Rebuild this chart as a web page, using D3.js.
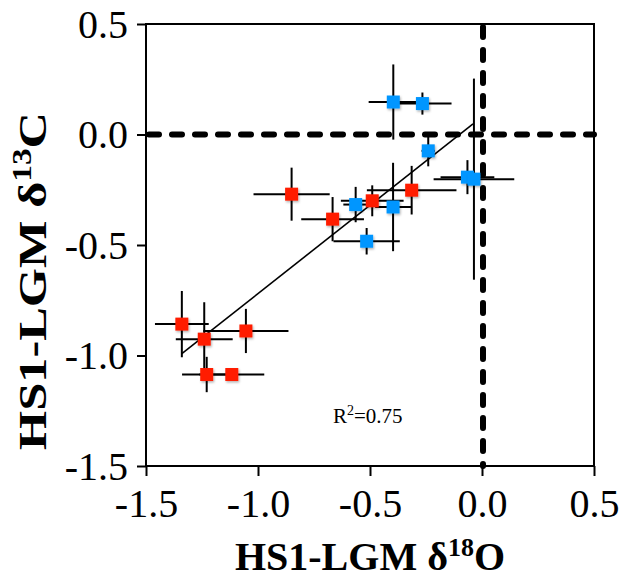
<!DOCTYPE html>
<html>
<head>
<meta charset="utf-8">
<script src="https://cdn.jsdelivr.net/npm/d3@7"></script>
<style>
  html, body { margin: 0; padding: 0; background: #fff; }
  svg { display: block; }
</style>
</head>
<body>
<svg id="chart" width="619" height="576"></svg>
<script>
// Red group: HS1-LGM differences (d18O, d13C) with 1-sigma uncertainties
const redX    = [-1.340, -1.240, -1.054, -1.229, -1.117, -0.850, -0.667, -0.490, -0.314];
const redY    = [-0.858, -0.926, -0.889, -1.086, -1.086, -0.270, -0.383, -0.300, -0.252];
const redXErr = [ 0.120,  0.127,  0.190,  0.110,  0.145,  0.170,  0.140,  0.140,  0.200];
const redYErr = [ 0.150,  0.167,  0.100,  0.080,  0.020,  0.120,  0.100,  0.070,  0.110];

// Blue group
const blueX    = [-0.515, -0.564, -0.397, -0.396, -0.266, -0.240, -0.065, -0.036];
const blueY    = [-0.483, -0.317, -0.328,  0.147,  0.140, -0.074, -0.193, -0.202];
const blueXErr = [ 0.148,  0.055,  0.080,  0.110,  0.130,  0.030,  0.120,  0.180];
const blueYErr = [ 0.060,  0.080,  0.200,  0.170,  0.050,  0.070,  0.077,  0.455];

// Least-squares fit through all points (endpoints of the drawn segment)
const fitX = [-1.340, -0.040];
const fitY = [-0.992,  0.048];
const fitLabel = "0.75";

// Axis ticks
const xTicks = [-1.5, -1.0, -0.5, 0.0, 0.5];
const xTickLabels = ["-1.5", "-1.0", "-0.5", "0.0", "0.5"];
const yTicks = [0.5, 0.0, -0.5, -1.0, -1.5];
const yTickLabels = ["0.5", "0.0", "-0.5", "-1.0", "-1.5"];

const serif = "'Liberation Serif', 'Times New Roman', Times, serif";
const RED = "#ff1e00", BLUE = "#0096ff";

const svg = d3.select("#chart");
const x = d3.scaleLinear().domain([-1.5, 0.5]).range([146, 594]);
const y = d3.scaleLinear().domain([-1.5, 0.5]).range([466, 24]);

// soft shadow under the square markers
const defs = svg.append("defs");
const f = defs.append("filter").attr("id", "shadow")
  .attr("x", "-50%").attr("y", "-50%").attr("width", "200%").attr("height", "200%");
f.append("feDropShadow").attr("dx", 1).attr("dy", 1.5).attr("stdDeviation", 1)
  .attr("flood-color", "#000").attr("flood-opacity", 0.3);

// zero reference lines
const zeroG = svg.append("g")
  .attr("stroke", "#000").attr("stroke-width", 6)
  .attr("stroke-linecap", "round").attr("stroke-dasharray", "10 13");
zeroG.append("line")
  .attr("x1", x(-1.5) + 3).attr("x2", x(0.5))
  .attr("y1", y(0)).attr("y2", y(0));
zeroG.append("line")
  .attr("x1", x(0) + 1).attr("x2", x(0) + 1)
  .attr("y1", y(0.5) + 3).attr("y2", y(-1.5));

// assemble points
const pts = [];
redX.forEach((v, i) => pts.push({x: v, y: redY[i], ex: redXErr[i], ey: redYErr[i], c: RED}));
blueX.forEach((v, i) => pts.push({x: v, y: blueY[i], ex: blueXErr[i], ey: blueYErr[i], c: BLUE}));

// error bars
const eb = svg.append("g").attr("stroke", "#000").attr("stroke-width", 2);
eb.selectAll("line.h").data(pts).join("line").attr("class", "h")
  .attr("x1", d => x(d.x - d.ex)).attr("x2", d => x(d.x + d.ex))
  .attr("y1", d => y(d.y)).attr("y2", d => y(d.y));
eb.selectAll("line.v").data(pts).join("line").attr("class", "v")
  .attr("x1", d => x(d.x)).attr("x2", d => x(d.x))
  .attr("y1", d => y(d.y - d.ey)).attr("y2", d => y(d.y + d.ey));

// regression line
svg.append("line")
  .attr("x1", x(fitX[0])).attr("y1", y(fitY[0]))
  .attr("x2", x(fitX[1])).attr("y2", y(fitY[1]))
  .attr("stroke", "#000").attr("stroke-width", 1.6);

// square markers
const S = 13;
svg.append("g").selectAll("rect").data(pts).join("rect")
  .attr("x", d => x(d.x) - S / 2).attr("y", d => y(d.y) - S / 2)
  .attr("width", S).attr("height", S)
  .attr("fill", d => d.c).attr("filter", "url(#shadow)");

// frame
svg.append("rect")
  .attr("x", x(-1.5)).attr("y", y(0.5))
  .attr("width", x(0.5) - x(-1.5)).attr("height", y(-1.5) - y(0.5))
  .attr("fill", "none").attr("stroke", "#000").attr("stroke-width", 2);

// axes
const xAxis = svg.append("g").attr("transform", `translate(0,${y(-1.5)})`)
  .call(d3.axisBottom(x).tickValues(xTicks)
    .tickFormat((d, i) => xTickLabels[i]).tickSize(10).tickPadding(13));
const yAxis = svg.append("g").attr("transform", `translate(${x(-1.5)},0)`)
  .call(d3.axisLeft(y).tickValues(yTicks)
    .tickFormat((d, i) => yTickLabels[i]).tickSize(9).tickPadding(9));
[xAxis, yAxis].forEach(g => {
  g.select(".domain").remove();
  g.selectAll(".tick line").attr("stroke", "#000").attr("stroke-width", 2);
  g.selectAll(".tick text").attr("fill", "#000")
    .style("font-family", serif).style("font-size", "40px");
});
yAxis.selectAll(".tick text").attr("dy", "0.33em");

// axis titles (superscripts raised by a fixed pixel offset)
function titleText(sel, main, sup, tail, size, supSize) {
  sel.style("font-family", serif).style("font-size", size + "px").style("font-weight", "bold");
  sel.append("tspan").text(main);
  sel.append("tspan").attr("dy", -0.36 * size).style("font-size", supSize + "px").text(sup);
  sel.append("tspan").attr("dy", 0.36 * size).text(tail);
}

const xTitle = svg.append("text")
  .attr("x", (x(-1.5) + x(0.5)) / 2).attr("y", 570)
  .attr("text-anchor", "middle");
titleText(xTitle, "HS1-LGM δ", "18", "O", 40, 26);

const yTitleG = svg.append("g").attr("transform", "translate(46,281) rotate(-90)");
const yTitle = yTitleG.append("text")
  .attr("x", 0).attr("y", 0).attr("text-anchor", "middle");
titleText(yTitle, "HS1-LGM δ", "13", "C", 41, 27);
const yw = yTitle.node().getBBox().width;
yTitle.attr("transform", `scale(${338 / yw},1)`);

// fit statistic
const r2 = svg.append("text").attr("x", 333).attr("y", 423)
  .style("font-family", serif).style("font-size", "21px").attr("fill", "#000");
r2.append("tspan").text("R");
r2.append("tspan").attr("dy", -8).style("font-size", "14px").text("2");
r2.append("tspan").attr("dy", 8).text("=" + fitLabel);
</script>
</body>
</html>
